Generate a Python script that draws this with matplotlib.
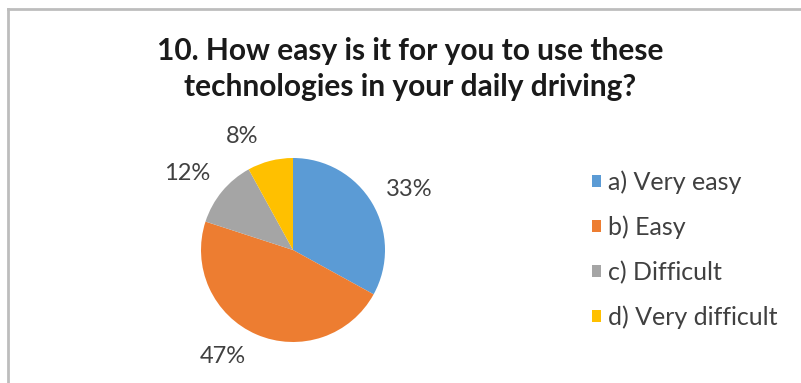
import numpy as np
import matplotlib.pyplot as plt
from matplotlib.patches import Patch
from matplotlib.lines import Line2D

plt.rcParams.update({"font.family": ["Lato", "DejaVu Sans"], "figure.facecolor": "white"})

labels = ["a) Very easy", "b) Easy", "c) Difficult", "d) Very difficult"]
shares = [33, 47, 12, 8]
colors = ["#5B9BD5", "#ED7D31", "#A5A5A5", "#FFC000"]
title = "10. How easy is it for you to use these\ntechnologies in your daily driving?"

W, H = 801, 383
fig = plt.figure(figsize=(W / 100, H / 100), dpi=100)

# chart frame (top and left edges visible)
frame_kw = dict(color="#bdbdbd", lw=2, transform=fig.transFigure)
fig.add_artist(Line2D([8 / W, 1], [1 - 9 / H, 1 - 9 / H], **frame_kw))
fig.add_artist(Line2D([8 / W, 8 / W], [0, 1 - 9 / H], **frame_kw))

fig.text(410 / W, 1 - 69 / H, title, ha="center", va="center",
         fontsize=21.5, fontweight="bold", color="#1a1a1a", linespacing=1.35)

# pie: centre at (293, 250) px, radius 92 px
cx, cy, r = 293, 250, 92
half = 160
ax = fig.add_axes([(cx - half) / W, (H - cy - half) / H, 2 * half / W, 2 * half / H])
wedges, _, pcts = ax.pie(shares, colors=colors, startangle=90, counterclock=False,
                         autopct=lambda p: f"{p:.0f}%", pctdistance=1.38,
                         textprops=dict(fontsize=17, color="#404040"),
                         wedgeprops=dict(linewidth=0))

# best-fit style label placement: nudge each label around its wedge
nudge_deg = [-3, -10, 4, 10]
dist = [1.43, 1.39, 1.42, 1.35]
for w, t, dn, d in zip(wedges, pcts, nudge_deg, dist):
    a = np.deg2rad((w.theta1 + w.theta2) / 2 + dn)
    t.set_position((d * np.cos(a), d * np.sin(a)))

ax.set_xlim(-half / r, half / r)
ax.set_ylim(-half / r, half / r)
ax.set_aspect("equal")
ax.axis("off")

handles = [Patch(facecolor=c, edgecolor="none") for c in colors]
fig.legend(handles, labels, loc="upper left", bbox_to_anchor=(569 / W, 1 - 148 / H),
           frameon=False, fontsize=18, handlelength=0.38, handleheight=0.38,
           handletextpad=0.3, labelspacing=0.86, labelcolor="#404040")

fig.savefig("out.png", dpi=100, facecolor="white")
